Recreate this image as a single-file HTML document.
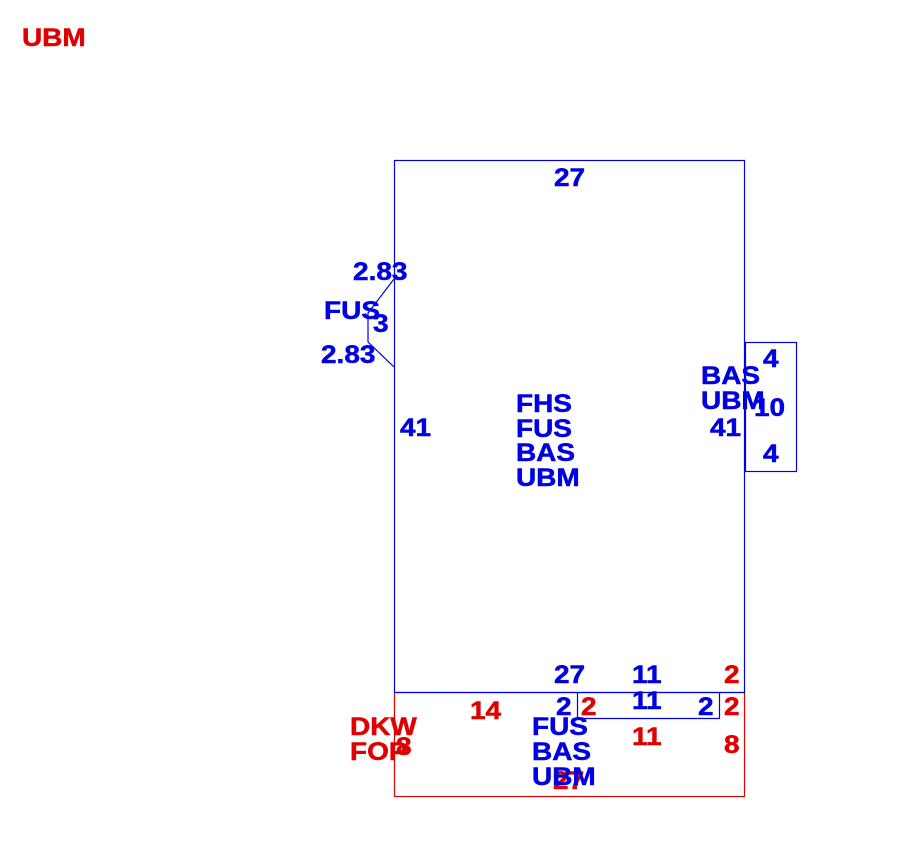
<!DOCTYPE html>
<html><head><style>body{margin:0;background:#fff}svg{display:block}text{font-family:"Liberation Sans",Arial,sans-serif;font-weight:bold;font-size:25px;stroke-width:0.5px}</style></head>
<body>
<svg width="908" height="863" xmlns="http://www.w3.org/2000/svg">
<g fill="none" stroke-width="1.2">
<rect x="394.5" y="692.5" width="350" height="104" stroke="#e00000"/>
<rect x="394.5" y="160.5" width="350" height="532" stroke="#0000e0"/>
<rect x="745.5" y="342.5" width="51" height="129" stroke="#0000e0"/>
<polyline points="577.5,692.5 577.5,718.5 719.5,718.5 719.5,692.5" stroke="#0000e0"/>
<polyline points="394,279 368,313 368,342 394,367" stroke="#0000e0"/>
</g>
<g transform="scale(1.12,1)">
<g fill="#e00000" stroke="#e00000">
<text x="19.6" y="46">UBM</text>
<text x="312.5" y="735">DKW</text>
<text x="312.5" y="760">FOP</text>
<text x="353.6" y="755">8</text>
<text x="419.6" y="719">14</text>
<text x="518.8" y="715">2</text>
<text x="564.3" y="745">11</text>
<text x="646.4" y="683">2</text>
<text x="646.4" y="715">2</text>
<text x="646.4" y="753">8</text>
<text x="493.8" y="789">27</text>
</g>
<g fill="#0000e0" stroke="#0000e0">
<text x="494.6" y="186">27</text>
<text x="315.2" y="280">2.83</text>
<text x="289.3" y="319">FUS</text>
<text x="333" y="332">3</text>
<text x="286.6" y="363">2.83</text>
<text x="357.1" y="436">41</text>
<text x="460.7" y="412">FHS</text>
<text x="460.7" y="437">FUS</text>
<text x="460.7" y="461">BAS</text>
<text x="460.7" y="486">UBM</text>
<text x="625.9" y="384">BAS</text>
<text x="625.9" y="409">UBM</text>
<text x="673.2" y="416">10</text>
<text x="633.9" y="436">41</text>
<text x="681.3" y="367">4</text>
<text x="681.3" y="462">4</text>
<text x="494.6" y="683">27</text>
<text x="564.3" y="683">11</text>
<text x="564.3" y="709">11</text>
<text x="496.4" y="715">2</text>
<text x="623.2" y="715">2</text>
<text x="475" y="735">FUS</text>
<text x="475" y="760">BAS</text>
<text x="475" y="785">UBM</text>
</g>
</g>
</svg>
</body></html>
